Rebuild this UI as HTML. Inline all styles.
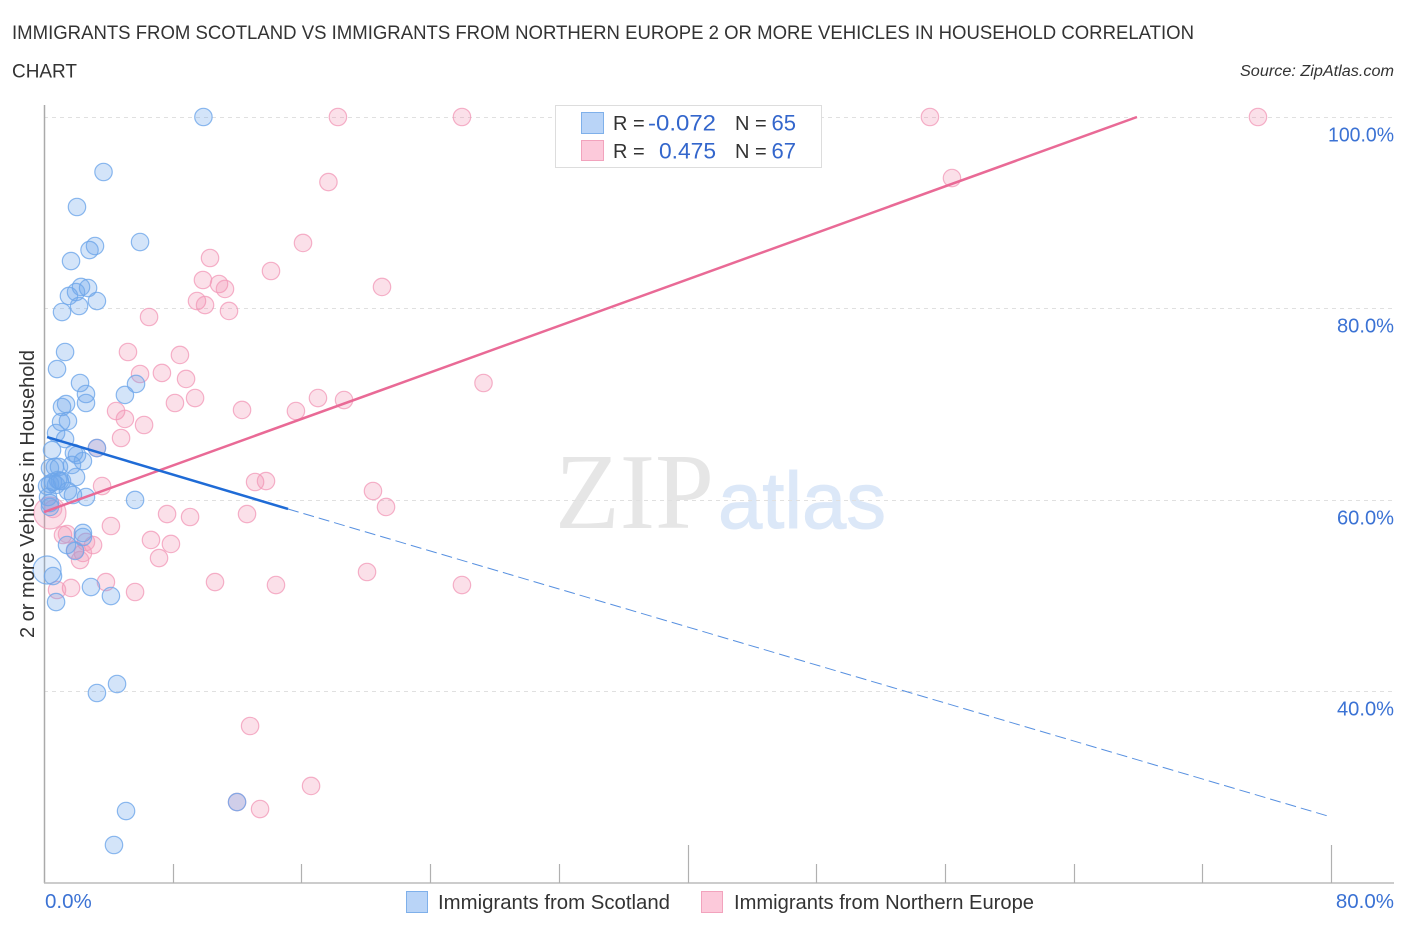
<!DOCTYPE html>
<html lang="en">
<head>
<meta charset="utf-8">
<title>Immigrants from Scotland vs Immigrants from Northern Europe</title>
<style>
html,body{margin:0;padding:0;background:#fff;}
svg{display:block;font-family:"Liberation Sans",sans-serif;}
</style>
</head>
<body>
<svg id="chart" xmlns="http://www.w3.org/2000/svg" width="1406" height="930" viewBox="0 0 1406 930">
  <rect x="0" y="0" width="1406" height="930" fill="#fff"/>
  <text x="12" y="39" font-size="19.5" fill="#333" textLength="1182" lengthAdjust="spacingAndGlyphs">IMMIGRANTS FROM SCOTLAND VS IMMIGRANTS FROM NORTHERN EUROPE 2 OR MORE VEHICLES IN HOUSEHOLD CORRELATION</text>
  <text x="12" y="77.5" font-size="19.5" fill="#333" textLength="65" lengthAdjust="spacingAndGlyphs">CHART</text>
  <text x="1394" y="76" font-size="15.5" font-style="italic" fill="#333" text-anchor="end" textLength="154" lengthAdjust="spacingAndGlyphs">Source: ZipAtlas.com</text>

  <g>
    <text x="555" y="528" font-family="'Liberation Serif',serif" font-size="108" fill="#e6e6e6" textLength="159" lengthAdjust="spacingAndGlyphs">ZIP</text>
    <text x="718" y="528" font-size="80" fill="#dce8f8" stroke="#dce8f8" stroke-width="1" textLength="168" lengthAdjust="spacingAndGlyphs">atlas</text>
  </g>

  <g id="grid"></g>
  <g id="axes"></g>
  <g id="marks-pink"></g>
  <g id="marks-blue"></g>
  <g id="trends"></g>
  <g id="labels"></g>

  <text transform="translate(34,494) rotate(-90)" font-size="20" fill="#333" text-anchor="middle" textLength="288" lengthAdjust="spacingAndGlyphs">2 or more Vehicles in Household</text>

  <g>
    <rect x="555.5" y="105.5" width="266" height="62" fill="#fff" stroke="#ddd" stroke-width="1"/>
    <rect x="581.5" y="112.5" width="22" height="21" fill="#b9d4f7" stroke="#7fb0ea" stroke-width="1"/>
    <rect x="581.5" y="140.5" width="22" height="20" fill="#fcc9da" stroke="#f2a3bd" stroke-width="1"/>
    <text x="613" y="130" font-size="20" fill="#333">R =</text>
    <text x="648" y="130.5" font-size="22" fill="#3366cc" textLength="68" lengthAdjust="spacingAndGlyphs">-0.072</text>
    <text x="735" y="130" font-size="20" fill="#333">N =</text>
    <text x="796" y="130.5" font-size="22" fill="#3366cc" text-anchor="end">65</text>
    <text x="613" y="158" font-size="20" fill="#333">R =</text>
    <text x="659" y="158.5" font-size="22" fill="#3366cc" textLength="57" lengthAdjust="spacingAndGlyphs">0.475</text>
    <text x="735" y="158" font-size="20" fill="#333">N =</text>
    <text x="796" y="158.5" font-size="22" fill="#3366cc" text-anchor="end">67</text>
  </g>

  <g>
    <g>
      <rect x="406.5" y="891.5" width="21" height="21" fill="#b9d4f7" stroke="#7fb0ea" stroke-width="1"/>
      <text x="438" y="909" font-size="20" fill="#333" textLength="232" lengthAdjust="spacingAndGlyphs">Immigrants from Scotland</text>
    </g>
    <g>
      <rect x="701.5" y="891.5" width="21" height="21" fill="#fcc9da" stroke="#f2a3bd" stroke-width="1"/>
      <text x="734" y="909" font-size="20" fill="#333" textLength="300" lengthAdjust="spacingAndGlyphs">Immigrants from Northern Europe</text>
    </g>
  </g>
</svg>

<script>
const yTickValues = [100, 80, 60, 40];
const yTickLabels = ["100.0%", "80.0%", "60.0%", "40.0%"];
const xTickValues = [8, 16, 24, 32, 40, 48, 56, 64, 72, 80];
const xMajorTicks = [40, 80];
const xEndLabels = ["0.0%", "80.0%"];
const xEndValues = [0, 80];

const scotlandX = [9.91,3.70,2.05,5.97,3.17,2.83,1.68,3.29,2.30,2.74,1.99,1.55,2.18,1.12,1.31,0.81,2.24,5.72,5.03,2.61,2.61,1.37,1.12,1.06,1.49,0.75,1.31,0.50,3.29,1.86,2.05,2.42,1.74,0.68,0.93,0.37,1.99,0.87,0.56,1.12,0.37,0.99,0.75,1.49,1.80,2.61,5.66,0.37,0.37,2.42,2.42,1.43,1.93,0.56,2.92,4.16,0.75,3.29,4.54,5.10,4.35,12.00,0.19,0.25];
const scotlandY = [100,94.25,90.59,86.93,86.51,86.09,84.94,80.76,82.23,82.12,81.70,81.29,80.24,79.61,75.43,73.65,72.19,72.09,70.94,71.04,70.10,69.99,69.68,68.11,68.22,66.96,66.33,65.18,65.39,64.87,64.66,64.03,63.62,63.41,63.41,63.30,62.36,62.05,61.84,61.94,61.63,61.94,61.53,60.90,60.48,60.27,59.96,59.64,59.23,56.51,56.09,55.25,54.63,52.01,50.86,49.92,49.29,39.78,40.72,27.44,23.89,28.38,61.42,60.27];
const scotlandLargeX = [0.19];
const scotlandLargeY = [52.64];

const europeX = [18.27,25.98,55.07,75.46,17.68,56.44,16.10,10.32,14.11,9.88,10.88,11.25,21.01,9.51,10.01,11.50,6.53,5.22,8.45,5.97,7.33,8.83,27.32,8.14,9.39,17.03,18.65,12.31,15.66,4.48,5.03,6.22,4.79,3.29,13.12,13.80,3.61,20.45,21.26,7.65,9.08,12.62,4.16,6.65,7.89,7.15,1.18,1.43,3.05,2.61,2.42,2.24,1.93,3.85,10.63,14.42,5.66,1.68,0.81,20.08,25.98,12.81,16.60,13.43,12.00,0.56];
const europeY = [100,100,100,100,93.20,93.62,86.83,85.26,83.90,82.96,82.54,82.02,82.23,80.76,80.34,79.72,79.09,75.43,75.12,73.13,73.24,72.61,72.19,70.10,70.62,70.62,70.41,69.37,69.26,69.26,68.43,67.80,66.44,65.39,61.84,61.94,61.42,60.90,59.23,58.49,58.18,58.49,57.24,55.78,55.36,53.89,56.30,56.40,55.25,55.57,54.42,53.68,54.73,51.38,51.38,51.07,50.34,50.76,50.55,52.43,51.07,36.33,30.06,27.65,28.38,59.02];
const europeLargeX = [0.37];
const europeLargeY = [58.60];

const scotlandTrendX = [0.19, 15.17, 80];
const scotlandTrendY = [66.54, 59.02, 26.82];
const europeTrendX = [0, 67.94];
const europeTrendY = [58.70, 100];

const NS = "http://www.w3.org/2000/svg";
function xScale(v) { return 44 + v * 16.0875; }
function yScale(v) { return 117 + (100 - v) * 9.565; }
function make(tag, attrs, parent) {
  const el = document.createElementNS(NS, tag);
  for (const k in attrs) el.setAttribute(k, attrs[k]);
  parent.appendChild(el);
  return el;
}

const grid = document.getElementById("grid");
const axes = document.getElementById("axes");
const labels = document.getElementById("labels");
const pinkLayer = document.getElementById("marks-pink");
const blueLayer = document.getElementById("marks-blue");
const trends = document.getElementById("trends");

yTickValues.forEach(function (v, i) {
  const py = Math.round(yScale(v)) + 0.5;
  const line = make("line", {x1: 44, x2: 1394, y1: py, y2: py, stroke: "#e0e0e0", "stroke-width": 1, "stroke-dasharray": "4 4"}, grid);
  
  
  const t = make("text", {x: 1394, y: py + 24, "font-size": 20.5, fill: "#3b72d4", "text-anchor": "end", textLength: yTickLabels[i].length > 5 ? 66 : 57, lengthAdjust: "spacingAndGlyphs"}, labels);
  t.textContent = yTickLabels[i];
  
  
});

const yAxis = make("line", {x1: 44.5, x2: 44.5, y1: 105, y2: 883, stroke: "#aaa", "stroke-width": 1.5}, axes);


const xAxis = make("line", {x1: 44, x2: 1394, y1: 883, y2: 883, stroke: "#bbb", "stroke-width": 1.5}, axes);



xTickValues.forEach(function (v) {
  const px = Math.round(xScale(v)) + 0.5;
  const top = xMajorTicks.indexOf(v) >= 0 ? 845 : 864;
  const tick = make("line", {x1: px, x2: px, y1: top, y2: 883, stroke: "#b0b0b0", "stroke-width": 1.2}, axes);
  
  
});

xEndLabels.forEach(function (s, i) {
  const anchor = i === 0 ? "start" : "end";
  const px = i === 0 ? xScale(xEndValues[i]) + 1 : xScale(xEndValues[i]) + 63;
  const t = make("text", {x: px, y: 908, "font-size": 20.5, fill: "#3b72d4", "text-anchor": anchor}, labels);
  t.textContent = s;
  
  
});

function drawPoints(xs, ys, r, fill, stroke, fillOpacity, layer, pointName) {
  xs.forEach(function (xv, i) {
    const c = make("circle", {cx: xScale(xv), cy: yScale(ys[i]), r: r, fill: fill, "fill-opacity": fillOpacity, stroke: stroke, "stroke-opacity": 0.8, "stroke-width": 1.2}, layer);
    
    
  });
}
drawPoints(europeLargeX, europeLargeY, 16, "#f28fb0", "#f29cba", 0.28, pinkLayer, "northern-europe-point-large");
drawPoints(europeX, europeY, 8.7, "#f28fb0", "#f29cba", 0.28, pinkLayer, "northern-europe-point");
drawPoints(scotlandLargeX, scotlandLargeY, 14, "#6ea6ea", "#6ea6ea", 0.2, blueLayer, "scotland-point-large");
drawPoints(scotlandX, scotlandY, 8.7, "#6ea6ea", "#6ea6ea", 0.3, blueLayer, "scotland-point");

const blueDash = make("line", {x1: xScale(scotlandTrendX[1]), y1: yScale(scotlandTrendY[1]), x2: xScale(scotlandTrendX[2]), y2: yScale(scotlandTrendY[2]), stroke: "#1f6bd6", "stroke-width": 1, "stroke-opacity": 0.75, "stroke-dasharray": "11 5"}, trends);


const pinkLine = make("line", {x1: xScale(europeTrendX[0]), y1: yScale(europeTrendY[0]), x2: xScale(europeTrendX[1]), y2: yScale(europeTrendY[1]), stroke: "#e96a96", "stroke-width": 2.5}, trends);


const blueLine = make("line", {x1: xScale(scotlandTrendX[0]), y1: yScale(scotlandTrendY[0]), x2: xScale(scotlandTrendX[1]), y2: yScale(scotlandTrendY[1]), stroke: "#1f6bd6", "stroke-width": 2.5}, trends);


</script>
</body>
</html>
